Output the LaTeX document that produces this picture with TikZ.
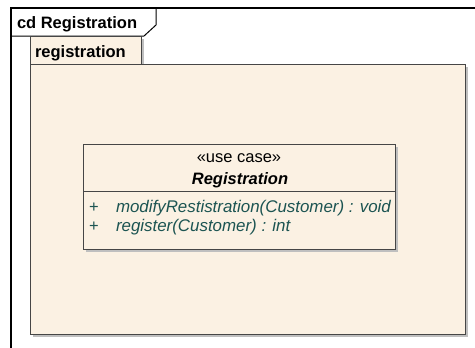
\documentclass[tikz,border=0pt]{standalone}
\usepackage{fontspec}
\setmainfont{Liberation Sans}
\usetikzlibrary{shadows}
\definecolor{pkgfill}{RGB}{251,241,227}
\definecolor{opcolor}{RGB}{28,84,82}
\definecolor{edgegray}{RGB}{70,70,70}
\begin{document}
\begin{tikzpicture}[x=1pt,y=-1pt,
  every node/.style={inner sep=0pt,outer sep=0pt},
  txt/.style={anchor=base west,font=\fontsize{16.5}{18}\selectfont},
  optxt/.style={anchor=base west,text=opcolor,font=\fontsize{16.9}{18}\selectfont\itshape},
  boxshadow/.style={drop shadow={shadow xshift=3pt,shadow yshift=-3pt,fill=black!25,opacity=1}},
  umlbox/.style={draw=edgegray,line width=1pt,fill=pkgfill,boxshadow,anchor=north west}]
\useasboundingbox (0,0) rectangle (475,348);
\fill[white] (0,0) rectangle (475,348);

% diagram frame with its name tab
\draw[line width=1.3pt] (475,8) -- (11,8) -- (11,348);
\draw[line width=1pt] (156,8) -- (156,25) -- (144,36) -- (11,36);
\node[txt,font=\fontsize{16.5}{18}\selectfont\bfseries] (frametitle) at (17,28) {cd Registration};

% package: tab and body
\node[umlbox,minimum width=111pt,minimum height=28pt] (pkgtab) at (30,36) {};
\node[umlbox,minimum width=435pt,minimum height=270pt] (pkgbody) at (30,64) {};
\node[txt,font=\fontsize{16.5}{18}\selectfont\bfseries] (pkgname) at (35,57) {registration};

% use case classifier
\node[umlbox,minimum width=312pt,minimum height=105pt] (uc) at (83,144) {};
\draw[edgegray,line width=1pt] (uc.west |- 0,191) -- (uc.east |- 0,191);
\node[anchor=base,font=\fontsize{16.5}{18}\selectfont] (stereo) at (239,162) {«use case»};
\node[anchor=base,font=\fontsize{16.5}{18}\selectfont\bfseries\itshape] (ucname) at (240,184) {Registration};
\node[txt,text=opcolor] (vis1) at (89,212) {+};
\node[optxt] (op1) at (116,212) {modifyRestistration(Customer) : void};
\node[txt,text=opcolor] (vis2) at (89,231) {+};
\node[optxt] (op2) at (116,231) {register(Customer) : int};
\end{tikzpicture}
\end{document}
